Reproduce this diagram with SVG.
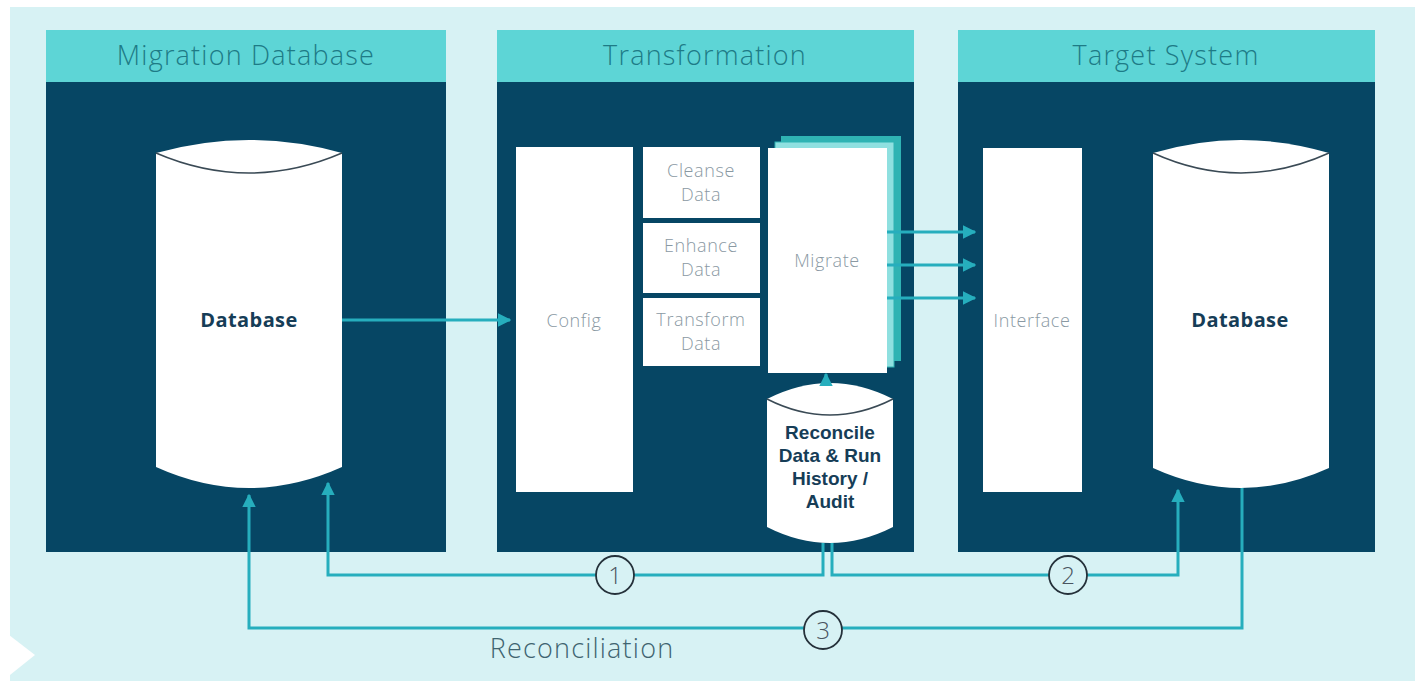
<svg xmlns="http://www.w3.org/2000/svg" width="1423" height="683" viewBox="0 0 1423 683">
<defs>
<style>
.hdr{fill:#5dd5d6}
.body{fill:#064664}
.htxt{font-family:"Open Sans","Liberation Sans",sans-serif;font-size:27px;font-weight:300;letter-spacing:1.2px;fill:#1e7b86;text-anchor:middle}
.box{fill:#ffffff}
.btxt{font-family:"Open Sans","Liberation Sans",sans-serif;font-size:18px;font-weight:300;letter-spacing:0.6px;fill:#8a99a3;text-anchor:middle}
.dbtxt{font-family:"Open Sans","Liberation Sans",sans-serif;font-size:20px;font-weight:bold;letter-spacing:0.4px;fill:#163d57;text-anchor:middle}
.rtxt{font-family:"Liberation Sans",Arial,sans-serif;font-size:19px;font-weight:bold;fill:#163d57;text-anchor:middle}
.line{fill:none;stroke:#26aebd;stroke-width:3}
.curve{fill:none;stroke:#3a4a55;stroke-width:1.5}
.num{fill:#d7f2f4;stroke:#25313a;stroke-width:1.8}
.ntxt{font-family:"Open Sans","Liberation Sans",sans-serif;font-size:24px;font-weight:300;fill:#4a5560;text-anchor:middle}
</style>
<marker id="ah" viewBox="0 0 10 10" refX="9" refY="5" markerWidth="4.5" markerHeight="4.5" orient="auto-start-reverse" markerUnits="strokeWidth">
<path d="M0,0 L10,5 L0,10 z" fill="#26aebd"/>
</marker>
</defs>
<rect x="0" y="0" width="1423" height="683" fill="#ffffff"/>
<rect x="10" y="7" width="1405" height="674" fill="#d7f2f4"/>
<polygon points="0,628 35,655 0,683" fill="#ffffff"/>

<g id="panel-migration">
<rect class="body" x="46" y="82" width="400" height="470"/>
<rect class="hdr" x="46" y="30" width="400" height="52"/>
<text class="htxt" x="246" y="65">Migration Database</text>
</g>
<g id="panel-transformation">
<rect class="body" x="497" y="82" width="417" height="470"/>
<rect class="hdr" x="497" y="30" width="417" height="52"/>
<text class="htxt" x="705" y="65">Transformation</text>
</g>
<g id="panel-target">
<rect class="body" x="958" y="82" width="417" height="470"/>
<rect class="hdr" x="958" y="30" width="417" height="52"/>
<text class="htxt" x="1166" y="65">Target System</text>
</g>

<g id="db-source">
<path class="box" d="M156,153 Q249,127 342,153 L342,467 Q249,509 156,467 Z"/>
<path class="curve" d="M156,153 Q249,193 342,153"/>
<text class="dbtxt" x="249" y="327">Database</text>
</g>

<g id="config">
<rect class="box" x="516" y="147" width="117" height="345"/>
<text class="btxt" x="574" y="327">Config</text>
</g>
<g id="cleanse">
<rect class="box" x="643" y="147" width="117" height="71"/>
<text class="btxt" x="701" y="177">Cleanse</text>
<text class="btxt" x="701" y="201">Data</text>
</g>
<g id="enhance">
<rect class="box" x="643" y="223" width="117" height="70"/>
<text class="btxt" x="701" y="252">Enhance</text>
<text class="btxt" x="701" y="276">Data</text>
</g>
<g id="transform">
<rect class="box" x="643" y="298" width="117" height="68"/>
<text class="btxt" x="701" y="326">Transform</text>
<text class="btxt" x="701" y="350">Data</text>
</g>
<g id="migrate">
<rect x="781" y="136" width="120" height="225" fill="#2fb3b3"/>
<rect x="775" y="142" width="119" height="225" fill="#8fe0e0" stroke="#2fb3b3" stroke-width="1"/>
<rect class="box" x="768" y="148" width="119" height="225"/>
<text class="btxt" x="827" y="267">Migrate</text>
</g>
<g id="reconcile-db">
<path class="box" d="M767,399 Q830,367 893,399 L893,527 Q830,559 767,527 Z"/>
<path class="curve" d="M767,399 Q830,431 893,399"/>
<text class="rtxt" x="830" y="439">Reconcile</text>
<text class="rtxt" x="830" y="462">Data &amp; Run</text>
<text class="rtxt" x="830" y="485">History /</text>
<text class="rtxt" x="830" y="508">Audit</text>
</g>

<g id="interface">
<rect class="box" x="983" y="148" width="99" height="344"/>
<text class="btxt" x="1032" y="327">Interface</text>
</g>
<g id="db-target">
<path class="box" d="M1153,153 Q1241,127 1329,153 L1329,468 Q1241,508 1153,468 Z"/>
<path class="curve" d="M1153,153 Q1241,193 1329,153"/>
<text class="dbtxt" x="1240" y="327">Database</text>
</g>

<g id="connectors">
<line class="line" x1="342" y1="320" x2="510" y2="320" marker-end="url(#ah)"/>
<line class="line" x1="887" y1="232" x2="975" y2="232" marker-end="url(#ah)"/>
<line class="line" x1="887" y1="265" x2="975" y2="265" marker-end="url(#ah)"/>
<line class="line" x1="887" y1="298" x2="975" y2="298" marker-end="url(#ah)"/>
<line class="line" x1="826" y1="385" x2="826" y2="374" marker-end="url(#ah)" stroke-width="2"/>
<polyline class="line" points="823,543 823,575 328,575 328,483" marker-end="url(#ah)"/>
<polyline class="line" points="832,543 832,575 1178,575 1178,490" marker-end="url(#ah)"/>
<polyline class="line" points="1242,488 1242,628 249,628 249,495" marker-end="url(#ah)"/>
</g>

<g id="label-1">
<circle class="num" cx="615" cy="575" r="19"/>
<text class="ntxt" x="615" y="584">1</text>
</g>
<g id="label-2">
<circle class="num" cx="1068" cy="575" r="19"/>
<text class="ntxt" x="1068" y="584">2</text>
</g>
<g id="label-3">
<circle class="num" cx="823" cy="630" r="19"/>
<text class="ntxt" x="823" y="639">3</text>
</g>
<text x="582" y="658" font-family="'Open Sans','Liberation Sans',sans-serif" font-size="27" font-weight="300" letter-spacing="1.2" fill="#3f6470" text-anchor="middle">Reconciliation</text>
</svg>
